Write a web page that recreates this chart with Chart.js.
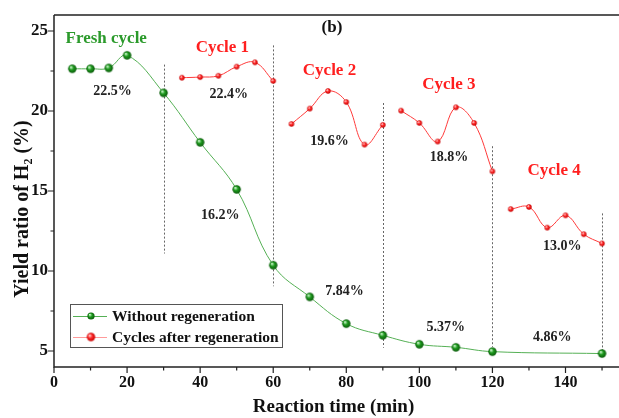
<!DOCTYPE html>
<html>
<head>
<meta charset="utf-8">
<script src="https://cdn.jsdelivr.net/npm/chart.js@4/dist/chart.umd.min.js"></script>
<style>
  html, body { margin: 0; padding: 0; background: #fff; }
  #wrap { width: 619px; height: 418px; }
</style>
</head>
<body>
<div id="wrap"><canvas id="c" width="619" height="418"></canvas></div>
<script>
// Data
const freshTime = [5, 10, 15, 20, 30, 40, 50, 60, 70, 80, 90, 100, 110, 120, 150];
const freshYield = [22.64, 22.64, 22.69, 23.48, 21.13, 18.04, 15.10, 10.36, 8.38, 6.71, 5.98, 5.42, 5.23, 4.96, 4.84];

const cycle1Time = [35, 40, 45, 50, 55, 60];
const cycle1Yield = [22.08, 22.12, 22.20, 22.77, 23.04, 21.88];
const cycle2Time = [65, 70, 75, 80, 85, 90];
const cycle2Yield = [19.19, 20.15, 21.25, 20.56, 17.90, 19.13];
const cycle3Time = [95, 100, 105, 110, 115, 120];
const cycle3Yield = [20.02, 19.25, 18.09, 20.23, 19.25, 16.23];
const cycle4Time = [125, 130, 135, 140, 145, 150];
const cycle4Yield = [13.87, 14.00, 12.71, 13.48, 12.30, 11.72];

const xTickValues = [0, 20, 40, 60, 80, 100, 120, 140];
const yTickValues = [5, 10, 15, 20, 25];

// dashed separators between cycles: time, top, bottom (in yield units)
const dividerTime = [30, 60, 90, 120, 150];
const dividerTop = [22.9, 24.1, 20.5, 17.8, 13.6];
const dividerBottom = [11.1, 9.05, 5.2, 5.25, 4.8];

// averages written on the plot
const avgLabels = ['22.5%', '22.4%', '19.6%', '18.8%', '13.0%', '16.2%', '7.84%', '5.37%', '4.86%'];
const avgAtTime = [16.0, 47.8, 75.4, 108.1, 139.1, 45.5, 79.5, 107.2, 136.4];
const avgAtYield = [21.2, 21.06, 18.1, 17.12, 11.53, 13.5, 8.7, 6.48, 5.85];

const stageLabels = ['Fresh cycle', 'Cycle 1', 'Cycle 2', 'Cycle 3', 'Cycle 4'];
const stageAtTime = [14.3, 46.1, 75.4, 108.1, 136.9];
const stageAtYield = [24.5, 23.96, 22.5, 21.67, 16.25];

const SERIF = '"Liberation Serif", "DejaVu Serif", serif';
const GREEN_LINE = '#55b055';
const RED_LINE = '#ff3a3a';

// small shaded balls like the origin-style markers
function makeBall(r, light, mid, dark) {
  const s = Math.ceil(r * 2) + 2;
  const c = document.createElement('canvas');
  c.width = s; c.height = s;
  const g = c.getContext('2d');
  const cx = s / 2, cy = s / 2;
  const grad = g.createRadialGradient(cx - r * 0.35, cy - r * 0.4, r * 0.1, cx, cy, r);
  grad.addColorStop(0, light);
  grad.addColorStop(0.45, mid);
  grad.addColorStop(1, dark);
  g.fillStyle = grad;
  g.beginPath();
  g.arc(cx, cy, r, 0, Math.PI * 2);
  g.fill();
  return c;
}

const greenBall = makeBall(4.2, '#c8f5c8', '#1e9a1e', '#0a5a0a');
const redBall = makeBall(2.7, '#ffd8d8', '#ff2a2a', '#c40000');
const greenBallSmall = makeBall(3.6, '#c8f5c8', '#1e9a1e', '#0a5a0a');
const redBallLegend = makeBall(4.2, '#ffd8d8', '#ff2a2a', '#c40000');

function pairs(xs, ys) {
  return xs.map((x, i) => ({ x: x, y: ys[i] }));
}

function cycleDataset(xs, ys) {
  return {
    data: pairs(xs, ys),
    borderColor: RED_LINE,
    borderWidth: 1,
    tension: 0.4,
    pointStyle: redBall,
    pointRadius: 3,
  };
}

const decorPlugin = {
  id: 'decor',
  beforeDatasetsDraw(chart) {
    const ctx = chart.ctx;
    const xs = chart.scales.x, ys = chart.scales.y;
    ctx.save();
    ctx.strokeStyle = '#666';
    ctx.lineWidth = 1;
    ctx.setLineDash([2, 2]);
    dividerTime.forEach((t, i) => {
      const px = Math.round(xs.getPixelForValue(t)) + 0.5;
      ctx.beginPath();
      ctx.moveTo(px, ys.getPixelForValue(dividerTop[i]));
      ctx.lineTo(px, ys.getPixelForValue(dividerBottom[i]));
      ctx.stroke();
    });
    ctx.restore();
  },
  afterDraw(chart) {
    const ctx = chart.ctx;
    const a = chart.chartArea;
    const xs = chart.scales.x, ys = chart.scales.y;
    ctx.save();

    // frame: left, bottom, top (right side runs off the image)
    ctx.strokeStyle = '#222';
    ctx.lineWidth = 1.5;
    ctx.beginPath();
    ctx.moveTo(a.left, a.top);
    ctx.lineTo(chart.width, a.top);
    ctx.moveTo(a.left, a.top);
    ctx.lineTo(a.left, a.bottom);
    ctx.lineTo(chart.width, a.bottom);
    ctx.stroke();

    // ticks outward, majors and minors
    ctx.lineWidth = 1.2;
    ctx.beginPath();
    for (let v = 0; v <= 150; v += 10) {
      const px = xs.getPixelForValue(v);
      const len = v % 20 === 0 ? 6 : 3.5;
      ctx.moveTo(px, a.bottom);
      ctx.lineTo(px, a.bottom + len);
    }
    for (let v = 5; v <= 25; v += 2.5) {
      const py = ys.getPixelForValue(v);
      const len = v % 5 === 0 ? 6 : 3.5;
      ctx.moveTo(a.left, py);
      ctx.lineTo(a.left - len, py);
    }
    ctx.stroke();

    ctx.textAlign = 'center';
    ctx.textBaseline = 'middle';

    // y axis title
    ctx.save();
    ctx.translate(23, 209);
    ctx.rotate(-Math.PI / 2);
    ctx.fillStyle = '#111';
    ctx.font = 'bold 20px ' + SERIF;
    ctx.fillText('Yield ratio of H\u2082 (%)', 0, 0);
    ctx.restore();

    // panel letter
    ctx.fillStyle = '#111';
    ctx.font = 'bold 17px ' + SERIF;
    ctx.fillText('(b)', 332, 28);

    // stage labels
    stageLabels.forEach((s, i) => {
      ctx.fillStyle = i === 0 ? '#2b9a2b' : '#ff1f1f';
      ctx.font = 'bold 17px ' + SERIF;
      ctx.fillText(s, xs.getPixelForValue(stageAtTime[i]), ys.getPixelForValue(stageAtYield[i]));
    });

    // average values
    ctx.fillStyle = '#222';
    ctx.font = 'bold 14px ' + SERIF;
    avgLabels.forEach((s, i) => {
      ctx.fillText(s, xs.getPixelForValue(avgAtTime[i]), ys.getPixelForValue(avgAtYield[i]));
    });

    // legend box
    const lx = 70.5, ly = 304.5, lw = 212, lh = 43;
    ctx.fillStyle = '#fff';
    ctx.fillRect(lx, ly, lw, lh);
    ctx.strokeStyle = '#555';
    ctx.lineWidth = 1;
    ctx.strokeRect(lx, ly, lw, lh);
    const rows = [
      { y: 316, line: GREEN_LINE, ball: greenBallSmall, text: 'Without regeneration' },
      { y: 337, line: '#ff9a9a', ball: redBallLegend, text: 'Cycles after regeneration' },
    ];
    rows.forEach(r => {
      ctx.strokeStyle = r.line;
      ctx.lineWidth = 1;
      ctx.beginPath();
      ctx.moveTo(73, r.y + 0.5);
      ctx.lineTo(107, r.y + 0.5);
      ctx.stroke();
      ctx.drawImage(r.ball, 91 - r.ball.width / 2, r.y - r.ball.height / 2);
      ctx.fillStyle = '#111';
      ctx.textAlign = 'left';
      ctx.font = 'bold 15.5px ' + SERIF;
      ctx.fillText(r.text, 112, r.y + 1);
    });
    ctx.restore();
  }
};

new Chart(document.getElementById('c'), {
  type: 'line',
  data: {
    datasets: [
      {
        data: pairs(freshTime, freshYield),
        borderColor: GREEN_LINE,
        borderWidth: 1,
        tension: 0.4,
        pointStyle: greenBall,
        pointRadius: 5,
      },
      cycleDataset(cycle1Time, cycle1Yield),
      cycleDataset(cycle2Time, cycle2Yield),
      cycleDataset(cycle3Time, cycle3Yield),
      cycleDataset(cycle4Time, cycle4Yield),
    ],
  },
  options: {
    responsive: false,
    animation: false,
    layout: { padding: { top: 15, left: 0, right: 0, bottom: 0 } },
    plugins: {
      legend: { display: false },
      tooltip: { enabled: false },
    },
    scales: {
      x: {
        type: 'linear',
        min: 0,
        max: 153,
        grid: { display: false, drawTicks: false },
        border: { display: false },
        afterBuildTicks: s => { s.ticks = xTickValues.map(v => ({ value: v })); },
        afterFit: s => { s.height = 51; s.paddingLeft = 0; s.paddingRight = 0; },
        ticks: {
          padding: 6,
          color: '#111',
          maxRotation: 0,
          font: { family: SERIF, size: 16, weight: 'bold' },
        },
        title: {
          display: true,
          text: 'Reaction time (min)',
          color: '#111',
          padding: { top: 0, bottom: 0 },
          font: { family: SERIF, size: 19, weight: 'bold' },
        },
      },
      y: {
        min: 4,
        max: 26,
        grid: { display: false, drawTicks: false },
        border: { display: false },
        afterBuildTicks: s => { s.ticks = yTickValues.map(v => ({ value: v })); },
        afterFit: s => { s.width = 54; s.paddingTop = 0; s.paddingBottom = 0; },
        ticks: {
          padding: 6,
          color: '#111',
          font: { family: SERIF, size: 17, weight: 'bold' },
        },
      },
    },
  },
  plugins: [decorPlugin],
});
</script>
</body>
</html>
